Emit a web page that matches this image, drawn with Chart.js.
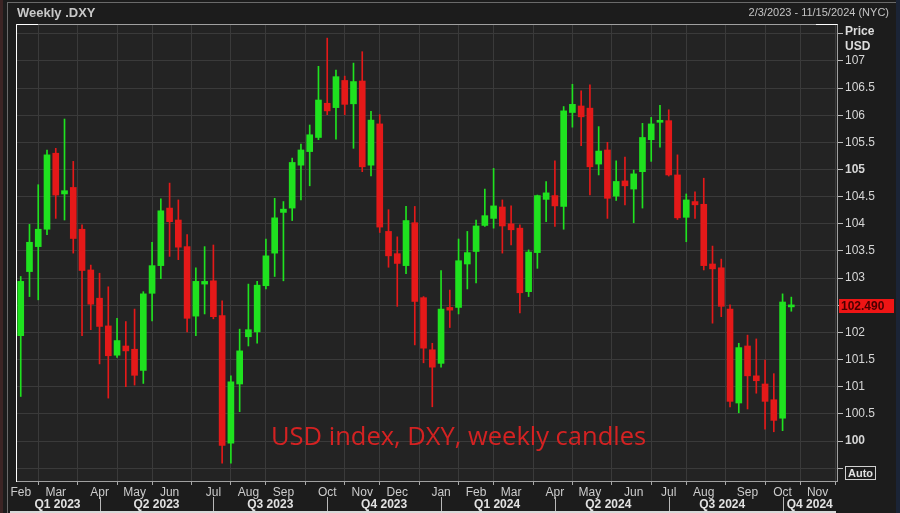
<!DOCTYPE html>
<html>
<head>
<meta charset="utf-8">
<script src="https://cdn.jsdelivr.net/npm/chart.js@4.4.1/dist/chart.umd.min.js"></script>
<style>
html, body { margin: 0; padding: 0; background: #1c1c1c; }
#wrap { position: relative; width: 900px; height: 513px; overflow: hidden; font-family: "Liberation Sans", Arial, sans-serif; }
#c { position: absolute; left: 0; top: 0; }
.txt { position: absolute; white-space: nowrap; }
#frameL { position: absolute; left: 0; top: 0; width: 3px; height: 513px; background: #3c2424; }
#frameIn { position: absolute; left: 7px; top: 2px; width: 893px; height: 511px; border-left: 1px solid #6a6a6a; border-top: 1px solid #6a6a6a; }
#frameR { position: absolute; right: 0; top: 0; width: 4px; height: 513px; background: #1b2436; }
#botLine { position: absolute; left: 10px; top: 511px; width: 826px; height: 2px; background: #d8d8d8; }
#title { left: 17px; top: 5px; font-size: 13px; font-weight: bold; color: #c8c8c8; }
#range { right: 11px; top: 6px; font-size: 11px; color: #c4c4c4; }
#unit { left: 845px; top: 24px; font-size: 12px; font-weight: bold; color: #dcdcdc; line-height: 15px; }
#auto { left: 845px; top: 466px; font-size: 11px; font-weight: bold; color: #e0e0e0; border: 1px solid #d0d0d0; padding: 0 2px; line-height: 12px; }
#note { left: 271px; top: 418px; font-family: "Open Sans", sans-serif; font-size: 25.5px; line-height: 34px; color: #d42222; }
</style>
</head>
<body>
<div id="wrap">
  <canvas id="c" width="900" height="513"></canvas>
  <div id="frameL"></div>
  <div id="frameIn"></div>
  <div id="frameR"></div>
  <div id="botLine"></div>
  <div class="txt" id="title">Weekly .DXY</div>
  <div class="txt" id="range">2/3/2023 - 11/15/2024 (NYC)</div>
  <div class="txt" id="unit">Price<br>USD</div>
  <div class="txt" id="auto">Auto</div>
  <div class="txt" id="note">USD index, DXY, weekly candles</div>
</div>
<script>
// weekly candles
var opens = [101.94, 103.12, 103.58, 103.90, 105.30, 104.55, 104.67, 103.90, 103.15, 102.63,
  102.12, 101.58, 101.75, 101.69, 101.30, 102.72, 103.23, 104.29, 104.07, 103.58,
  102.30, 102.89, 102.95, 102.31, 99.96, 101.05, 101.92, 102.01, 102.86, 103.46,
  104.21, 104.29, 105.08, 105.33, 105.59, 106.22, 106.14, 106.64, 106.21, 106.63,
  105.08, 105.84, 103.86, 103.45, 103.23, 104.02, 102.64, 101.68, 101.43, 102.46,
  102.46, 103.26, 103.49, 103.97, 104.10, 104.31, 104.00, 103.92, 102.75, 103.47,
  104.45, 104.52, 104.32, 106.05, 106.17, 106.13, 105.10, 105.36, 104.51, 104.79,
  104.64, 104.96, 105.55, 105.87, 105.90, 104.90, 104.12, 104.41, 104.36, 103.26,
  103.19, 102.43, 100.70, 101.75, 101.20, 101.05, 100.76, 100.42, 102.47];
var highs = [103.03, 103.99, 104.72, 105.36, 105.39, 105.93, 105.15, 103.98, 103.24, 103.09,
  102.84, 102.26, 102.20, 102.43, 102.75, 103.66, 104.46, 104.75, 104.44, 103.80,
  103.19, 103.58, 103.61, 102.58, 101.20, 102.06, 102.89, 102.94, 103.72, 104.47,
  104.41, 105.21, 105.47, 105.82, 106.90, 107.42, 106.83, 106.72, 106.96, 107.17,
  106.07, 106.01, 104.26, 103.76, 104.32, 104.32, 102.66, 101.80, 103.14, 102.78,
  103.72, 103.86, 104.07, 104.64, 105.02, 104.44, 104.33, 103.98, 103.52, 104.53,
  104.78, 105.16, 106.16, 106.57, 106.45, 106.56, 105.79, 105.50, 105.16, 105.23,
  104.99, 105.85, 105.96, 106.18, 106.10, 105.27, 104.55, 104.59, 104.84, 103.59,
  103.35, 102.51, 101.80, 101.95, 101.88, 101.49, 101.24, 102.71, 102.65];
var lows = [100.82, 102.66, 102.60, 103.80, 104.10, 104.07, 103.46, 101.94, 102.05, 101.42,
  100.79, 101.54, 101.00, 101.03, 101.06, 102.21, 102.99, 103.40, 103.34, 102.01,
  101.94, 102.34, 102.25, 99.59, 99.59, 100.54, 101.75, 101.80, 102.80, 103.03,
  102.95, 104.06, 104.44, 104.70, 105.55, 106.01, 105.56, 106.01, 105.39, 104.96,
  104.88, 103.84, 103.20, 102.48, 103.08, 101.77, 101.44, 100.63, 101.36, 102.09,
  102.34, 102.80, 102.91, 103.95, 103.92, 103.46, 103.61, 102.36, 102.66, 103.18,
  104.04, 103.95, 103.90, 105.78, 105.44, 104.53, 104.90, 104.10, 104.43, 104.35,
  104.02, 104.29, 105.15, 105.41, 104.88, 104.08, 103.67, 104.10, 103.15, 102.17,
  102.29, 100.63, 100.52, 100.59, 100.88, 100.22, 100.17, 100.19, 102.39];
var closes = [102.94, 103.66, 103.90, 105.27, 104.53, 104.61, 103.73, 103.14, 102.52, 102.11,
  101.57, 101.85, 101.66, 101.21, 102.71, 103.23, 104.24, 104.04, 103.57, 102.26,
  102.94, 102.94, 102.29, 99.92, 101.09, 101.66, 102.05, 102.87, 103.41, 104.11,
  104.27, 105.13, 105.36, 105.64, 106.28, 106.08, 106.71, 106.20, 106.62, 105.05,
  105.91, 103.94, 103.41, 103.27, 104.06, 102.57, 101.71, 101.36, 102.43, 102.41,
  103.32, 103.47, 103.96, 104.15, 104.33, 103.96, 103.89, 102.73, 103.48, 104.52,
  104.57, 104.33, 106.08, 106.20, 105.97, 105.05, 105.34, 104.47, 104.78, 104.70,
  104.92, 105.59, 105.84, 105.90, 104.90, 104.11, 104.44, 104.35, 103.23, 103.17,
  102.48, 100.73, 101.72, 101.20, 101.11, 100.73, 100.38, 102.56, 102.49];

// month ticks (week index where the month starts)
var monthLabels = ['Feb', 'Mar', 'Apr', 'May', 'Jun', 'Jul', 'Aug', 'Sep', 'Oct', 'Nov', 'Dec',
  'Jan', 'Feb', 'Mar', 'Apr', 'May', 'Jun', 'Jul', 'Aug', 'Sep', 'Oct', 'Nov'];
var monthWeeks = [0, 4, 9, 13, 17, 22, 26, 30, 35, 39, 43, 48, 52, 56, 61, 65, 70, 74, 78, 83, 87, 91];
var quarterLabels = ['Q1 2023', 'Q2 2023', 'Q3 2023', 'Q4 2023', 'Q1 2024', 'Q2 2024', 'Q3 2024', 'Q4 2024'];
var quarterCenters = [4.2, 15.5, 28.5, 41.5, 54.4, 67.1, 80.1, 90.1];
var quarterStarts = [9, 22, 35, 48, 61, 74, 87];
var priceTicks = [99.5, 100, 100.5, 101, 101.5, 102, 102.5, 103, 103.5, 104, 104.5, 105, 105.5, 106, 106.5, 107, 107.5];
var priceLabels = ['', '100', '100.5', '101', '101.5', '102', '102.5', '103', '103.5', '104', '104.5', '105', '105.5', '106', '106.5', '107', ''];

var GREEN = '#1fe21f';
var RED = '#e41919';
var FONT = '"Liberation Sans", Arial, sans-serif';

var weeks = closes.map(function (_, i) { return i; });
var colors = weeks.map(function (i) { return closes[i] >= opens[i] ? GREEN : RED; });

var panelBg = {
    id: 'panelBg',
    beforeDraw: function (chart) {
        var a = chart.chartArea, ctx = chart.ctx;
        ctx.save();
        ctx.fillStyle = '#232323';
        ctx.fillRect(a.left, a.top, a.right - a.left, a.bottom - a.top);
        ctx.restore();
    }
};

var extras = {
    id: 'extras',
    afterDraw: function (chart) {
        var a = chart.chartArea, ctx = chart.ctx;
        var xs = chart.scales.x, ys = chart.scales.y;
        ctx.save();
        // frame
        ctx.strokeStyle = '#a0a0a0';
        ctx.lineWidth = 1;
        ctx.strokeRect(a.left + 0.5, a.top + 0.5, a.right - a.left - 1, a.bottom - a.top - 1);
        ctx.strokeStyle = '#ffffff';
        ctx.beginPath();
        ctx.moveTo(a.left + 0.5, a.bottom); ctx.lineTo(a.left + 0.5, a.top + 0.5); ctx.lineTo(a.left + 22, a.top + 0.5);
        ctx.moveTo(a.right - 22, a.top + 0.5); ctx.lineTo(a.right - 0.5, a.top + 0.5);
        ctx.stroke();
        // quarter row
        ctx.fillStyle = '#e2e2e2';
        ctx.font = 'bold 12px ' + FONT;
        ctx.textAlign = 'center';
        ctx.textBaseline = 'middle';
        quarterLabels.forEach(function (q, i) {
            ctx.fillText(q, xs.getPixelForValue(quarterCenters[i]), 505);
        });
        ctx.strokeStyle = '#b8b8b8';
        ctx.beginPath();
        quarterStarts.forEach(function (w) {
            var x = Math.round(xs.getPixelForValue(w)) + 0.5;
            ctx.moveTo(x, 497); ctx.lineTo(x, 513);
        });
        ctx.stroke();
        // last price tag
        var last = closes[closes.length - 1];
        var y = ys.getPixelForValue(last);
        ctx.fillStyle = '#ee1515';
        ctx.fillRect(a.right + 1, Math.round(y) - 7, 55, 14);
        ctx.fillStyle = '#4a0000';
        ctx.textAlign = 'left';
        ctx.fillText(last.toFixed(3), a.right + 3, Math.round(y) + 1);
        ctx.restore();
    }
};

var chart = new Chart(document.getElementById('c'), {
    type: 'bar',
    data: {
        datasets: [
            {
                // bodies
                data: weeks.map(function (i) { return { x: i, y: [opens[i], closes[i]] }; }),
                backgroundColor: colors,
                barThickness: 6,
                minBarLength: 2,
                grouped: false,
                order: 1
            },
            {
                // wicks
                data: weeks.map(function (i) { return { x: i, y: [lows[i], highs[i]] }; }),
                backgroundColor: colors,
                barThickness: 1,
                grouped: false,
                order: 2
            }
        ]
    },
    options: {
        responsive: false,
        animation: false,
        layout: { padding: { left: 16, top: 24, right: 0, bottom: 0 } },
        plugins: { legend: { display: false }, tooltip: { enabled: false } },
        scales: {
            x: {
                type: 'linear',
                min: -0.54,
                max: 93.33,
                offset: false,
                afterBuildTicks: function (s) { s.ticks = monthWeeks.map(function (v) { return { value: v }; }); },
                afterFit: function (s) { s.height = 31; },
                ticks: {
                    callback: function (v) { return monthLabels[monthWeeks.indexOf(v)]; },
                    color: '#cccccc',
                    font: { size: 12, family: FONT },
                    padding: 0,
                    maxRotation: 0,
                    autoSkip: false
                },
                grid: { color: '#3a3a3a', tickColor: '#a8a8a8', tickLength: 3 },
                border: { display: false }
            },
            y: {
                position: 'right',
                min: 99.245,
                max: 107.68,
                afterBuildTicks: function (s) { s.ticks = priceTicks.map(function (v) { return { value: v }; }); },
                afterFit: function (s) { s.width = 62; },
                ticks: {
                    callback: function (v) { return priceLabels[priceTicks.indexOf(v)]; },
                    color: '#d6d6d6',
                    font: function (ctx) {
                        var v = ctx.tick ? ctx.tick.value : 0;
                        return { size: 12, family: FONT, weight: (v === 100 || v === 105) ? 'bold' : 'normal' };
                    },
                    padding: 2,
                    autoSkip: false
                },
                grid: { color: '#3a3a3a', tickColor: '#bdbdbd', tickLength: 5 },
                border: { display: false }
            }
        }
    },
    plugins: [panelBg, extras]
});
</script>
</body>
</html>
